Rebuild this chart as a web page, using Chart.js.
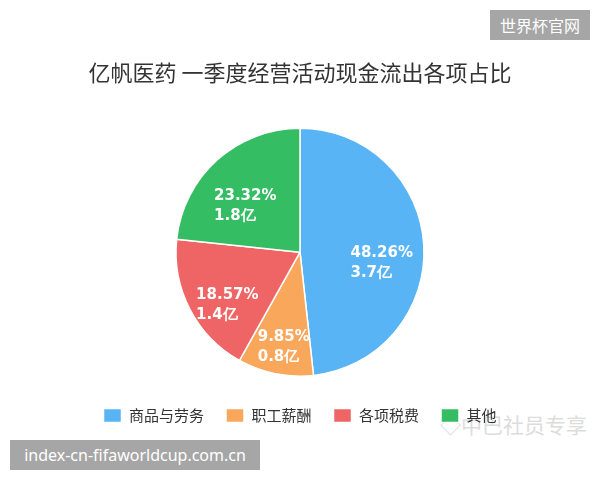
<!DOCTYPE html>
<html>
<head>
<meta charset="utf-8">
<script src="https://cdn.jsdelivr.net/npm/chart.js@4/dist/chart.umd.min.js"></script>
<style>
  html, body { margin: 0; padding: 0; background: #fff; }
  #wrap { position: relative; width: 600px; height: 480px; overflow: hidden; }
  #chart { position: absolute; left: 0; top: 0; z-index: 2; }
  .mark { position: absolute; z-index: 3; background: #a6a6a6; color: #fff; font-family: "Noto Sans CJK SC", "Noto Sans", sans-serif; white-space: nowrap; }
  #mark-top { left: 490px; top: 10px; width: 100px; height: 30px; line-height: 30px; font-size: 16px; text-align: center; }
  #mark-bottom { left: 10px; top: 440px; width: 250px; height: 30px; line-height: 30px; font-size: 16px; text-align: center; font-family: "Noto Sans", sans-serif; }
  #mark-faint { position: absolute; z-index: 1; left: 440px; top: 409px; font-size: 21px; color: #dcdcdc; font-family: "Noto Sans CJK SC", sans-serif; white-space: nowrap; }
</style>
</head>
<body>
<div id="wrap">
  <div id="mark-faint">◇中巴社员专享</div>
  <canvas id="chart" width="600" height="480"></canvas>
  <div class="mark" id="mark-top">世界杯官网</div>
  <div class="mark" id="mark-bottom">index-cn-fifaworldcup.com.cn</div>
</div>
<script>
const categories = ['商品与劳务', '职工薪酬', '各项税费', '其他']
const shares     = [48.26, 9.85, 18.57, 23.32]
const amounts    = ['3.7亿', '0.8亿', '1.4亿', '1.8亿']
const colors     = ['#58b4f4', '#f8a75b', '#ef6565', '#34bd62']

// labels inside each slice: percent on first line, amount on second
const sliceLabels = {
  id: 'sliceLabels',
  afterDatasetsDraw(chart) {
    const { ctx } = chart
    const meta = chart.getDatasetMeta(0)
    ctx.save()
    ctx.font = 'bold 15px "DejaVu Sans", sans-serif'
    ctx.fillStyle = '#fff'
    ctx.textAlign = 'left'
    ctx.textBaseline = 'middle'
    meta.data.forEach((arc, i) => {
      const mid = (arc.startAngle + arc.endAngle) / 2
      const r   = arc.outerRadius * 0.66
      const cx  = arc.x + Math.cos(mid) * r
      const cy  = arc.y + Math.sin(mid) * r
      const l1  = shares[i].toFixed(2) + '%'
      const l2  = amounts[i]
      const w   = Math.max(ctx.measureText(l1).width, ctx.measureText(l2).width)
      ctx.fillText(l1, cx - w / 2, cy + 5)
      ctx.fillText(l2, cx - w / 2, cy + 25)
    })
    ctx.restore()
  }
}

new Chart(document.getElementById('chart'), {
  type: 'pie',
  data: {
    labels: categories,
    datasets: [{
      data:            shares,
      backgroundColor: colors,
      borderColor:     '#fff',
      borderWidth:     1.5,
      radius:          124,
    }],
  },
  options: {
    responsive: false,
    animation: false,
    layout: { padding: { top: 0, bottom: 47 } },
    plugins: {
      tooltip: { enabled: false },
      title: {
        display: true,
        text: '亿帆医药 一季度经营活动现金流出各项占比',
        color: '#333',
        font: { family: '"Noto Sans CJK SC", sans-serif', size: 22, weight: 'normal' },
        padding: { top: 59, bottom: 33 },
      },
      legend: {
        position: 'bottom',
        labels: {
          color: '#333',
          boxWidth: 18,
          boxHeight: 14,
          padding: 22,
          font: { family: '"Noto Sans CJK SC", sans-serif', size: 15 },
        },
      },
    },
  },
  plugins: [sliceLabels],
})
</script>
</body>
</html>
